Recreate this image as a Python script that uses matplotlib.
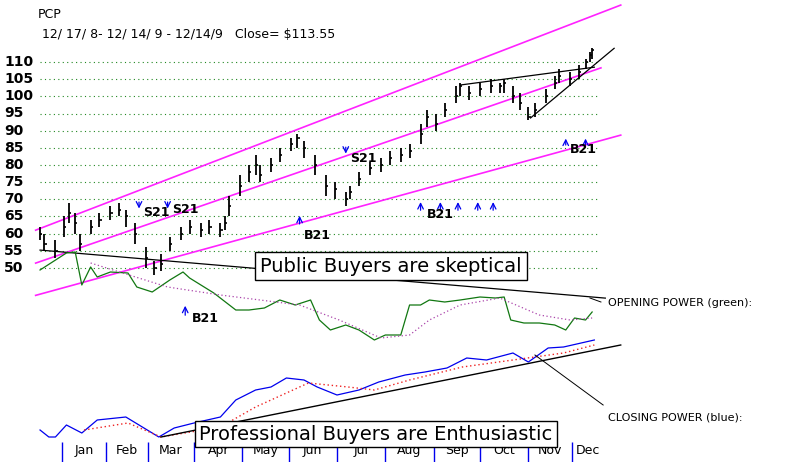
import matplotlib
matplotlib.use("Agg")
import matplotlib.pyplot as plt

# ---- data ----
p_days = [0,2,7,11,13,16,18,23,27,32,36,39,43,48,52,55,59,64,68,73,77,82,84,86,91,95,98,100,105,109,114,117,120,125,130,134,139,141,145,150,155,159,164,168,173,176,180,184,189,191,195,200,205,209,211,215,218,222,225,230,234,236,241,245,248,250,251]
p_close = [60,57,55,62,66,63,57,62,64,66,67,65,60,53,50,51,57,60,62,61,62,61,63,68,74,78,80,77,80,83,86,88,85,80,74,73,70,72,76,79,80,82,83,84,89,94,92,96,100,103,101,102,103,103,104,100,98,94,96,100,104,106,105,107,110,112,113.5]
p_high = [62,60,58,65,69,66,60,64,66,68,69,67,63,56,52,54,59,62,64,63,64,63,65,71,77,80,83,80,82,85,88,89,87,83,77,75,72,74,78,81,82,84,85,86,92,96,95,98,103,104,103,104,105,104,105,103,101,97,98,102,106,108,107,109,111,113,114]
p_low = [58,55,53,59,63,60,55,60,62,64,65,62,57,50,48,49,55,58,60,59,60,59,61,65,71,75,77,75,78,81,84,85,82,77,71,70,68,70,74,77,78,80,81,82,86,91,90,94,98,100,99,100,101,101,101,98,96,93,94,98,102,104,103,105,108,110,111]

op_days = [0,12,16,19,23,26,32,40,44,51,59,65,68,79,89,95,102,109,116,123,127,132,139,145,152,157,164,168,173,177,184,191,200,207,211,214,220,227,234,239,243,248,251]
op_vals = [192,209,210,177,195,185,190,189,175,170,182,190,184,169,152,152,154,162,157,162,142,132,137,132,122,127,127,157,157,162,160,162,165,164,165,142,139,139,137,132,144,142,150]
opma_days = [23,58,82,118,136,155,168,177,191,209,227,241,251]
opma_vals = [199,175,167,157,142,124,127,142,157,164,147,142,144]

cp_days = [0,4,7,12,19,26,39,45,54,61,70,82,89,98,105,112,120,126,135,145,154,166,175,185,194,203,215,222,231,238,248,252]
cp_vals = [32,25,25,37,29,42,45,37,25,34,39,45,62,72,75,84,82,75,67,72,80,87,90,94,104,102,109,100,114,115,120,122]
cpma_days = [20,40,55,82,98,122,140,152,168,192,215,238,252]
cpma_vals = [32,39,25,35,55,79,75,72,82,95,102,109,117]

months = ["Jan","Feb","Mar","Apr","May","Jun","Jul","Aug","Sep","Oct","Nov","Dec"]
month_starts = [10,30,49,70,92,113,135,157,179,200,222,242]
price_ticks = [50,55,60,65,70,75,80,85,90,95,100,105,110]

fig = plt.figure(figsize=(8,4.62), dpi=100)
ax = fig.add_axes([0,0,1,1])
ax2 = ax.twinx()
for a in (ax, ax2):
    a.set_axis_off()
ax.set_xlim(-18.2, 345.5)
ax.set_ylim(-6.56, 128.08)
ax2.set_ylim(0, 462)

# grid
for p in price_ticks:
    ax.plot([0, 254], [p, p], ls=(0,(1,3)), color="#228822", lw=0.8)
    fig.text(4/800, 1-(62+(110-p)*3.43)/462, str(p), fontsize=10, fontweight="bold", va="center")

# channels
ax.plot([-2, 264], [61, 126.6], color="#ff22ff", lw=1.2)
ax.plot([-2, 255], [51.4, 108.3], color="#ff22ff", lw=1.2)
ax.plot([-2, 264], [42, 88.7], color="#ff22ff", lw=1.2)

# price bars
ax.vlines(p_days, p_low, p_high, color="black", lw=1.3)
ax.hlines(p_close, p_days, [d+1 for d in p_days], color="black", lw=1.2)

# black lines
ax.plot([0, 257], [55.2, 41.2], color="black", lw=0.9)
ax.plot([191, 252], [103.3, 108.5], color="black", lw=0.9)
ax.plot([223, 261], [93.7, 114], color="black", lw=0.9)

# indicators
ax2.plot(op_days, op_vals, color="#117711", lw=0.9)
ax2.plot(opma_days, opma_vals, color="#aa44aa", lw=0.9, ls=(0,(1,2)))
ax2.plot(cp_days, cp_vals, color="#0000ee", lw=0.9)
ax2.plot(cpma_days, cpma_vals, color="#ee2222", lw=1.0, ls=(0,(1,2)))
ax2.plot([55, 264], [25, 117], color="black", lw=1.0)
ax2.plot([225, 256], [107, 57], color="black", lw=0.7)
ax2.plot([250, 255], [164, 160], color="black", lw=0.7)

# signals
def sig(d, y0, y1, label, lx, ly):
    ax.annotate("", xy=(d, y1), xytext=(d, y0), arrowprops=dict(arrowstyle="->", color="#0000ee", lw=0.9))
    if label:
        ax.text(lx, ly, label, fontsize=9, fontweight="bold")
sig(45, 70, 66.5, "S21", 47, 65)
sig(58, 70, 66.5, "S21", 60, 66)
sig(139, 86, 82.5, "S21", 141, 81)
sig(118, 62, 66, "B21", 120, 58.5)
for d in [173, 182, 190, 199, 206]:
    sig(d, 66, 70, "", d, 66)
ax.text(176, 64.5, "B21", fontsize=9, fontweight="bold")
for d in [239, 248]:
    sig(d, 85, 88.5, "", d, 85)
ax.text(241, 83.5, "B21", fontsize=9, fontweight="bold")
ax2.annotate("", xy=(66, 159), xytext=(66, 144), arrowprops=dict(arrowstyle="->", color="#0000ee", lw=0.9))
ax2.text(69, 140, "B21", fontsize=9, fontweight="bold")

# text boxes
fig.text(391/800, 1-266/462, "Public Buyers are skeptical", fontsize=14, ha="center", va="center",
         bbox=dict(boxstyle="square,pad=0.25", fc="white", ec="black", lw=1))
fig.text(376/800, 1-434/462, "Professional Buyers are Enthusiastic", fontsize=14, ha="center", va="center",
         bbox=dict(boxstyle="square,pad=0.2", fc="white", ec="black", lw=1))
fig.text(608/800, 1-306/462, "OPENING POWER (green):", fontsize=8)
fig.text(608/800, 1-421/462, "CLOSING POWER (blue):", fontsize=8)
fig.text(38/800, 1-18/462, "PCP", fontsize=9)
fig.text(42/800, 1-38/462, "12/ 17/ 8- 12/ 14/ 9 - 12/14/9   Close= $113.55", fontsize=9)

# months
ends = month_starts[1:] + [256]
for m, s, e in zip(months, month_starts, ends):
    ax.text((s+e)/2, -3.3, m, fontsize=9, ha="center", va="center")
ax.vlines(month_starts, -6.56, -0.8, color="#0000ee", lw=1)

fig.savefig("out.png", dpi=100)
